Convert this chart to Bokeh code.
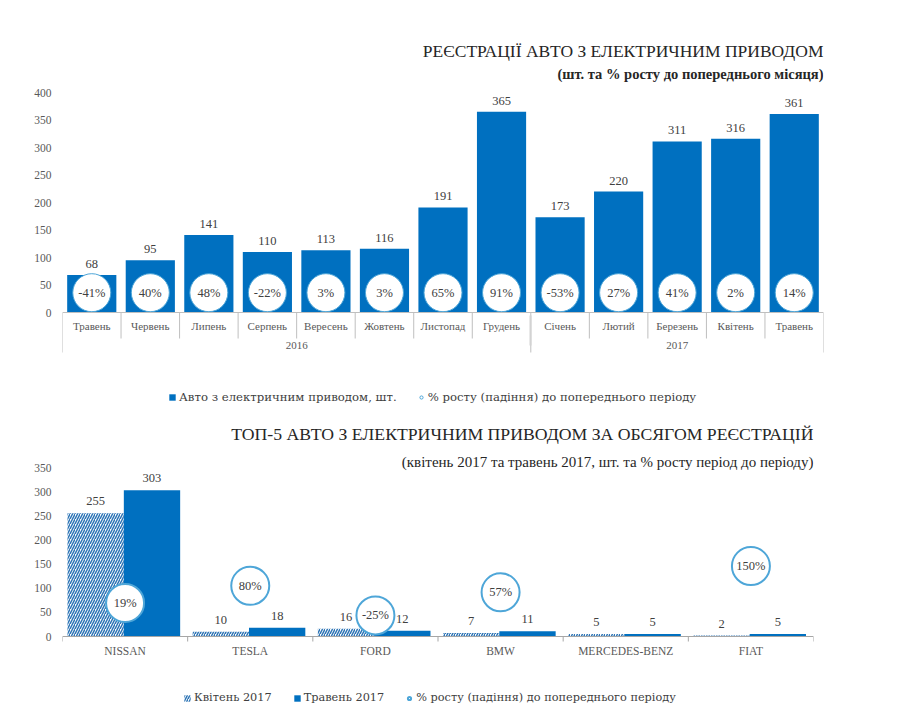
from bokeh.plotting import figure
from bokeh.models import (FactorRange, Range1d, ColumnDataSource, FixedTicker,
                          Label, Legend, LegendItem)
from bokeh.layouts import column
from bokeh.transform import dodge
from bokeh.core.properties import value
from bokeh.embed import file_html
from bokeh.resources import INLINE

# ---------------- data: top chart ----------------
months = ["Травень", "Червень", "Липень", "Серпень", "Вересень", "Жовтень",
          "Листопад", "Грудень", "Січень", "Лютий", "Березень", "Квітень", "Травень"]
years = ["2016"] * 8 + ["2017"] * 5
registrations = [68, 95, 141, 110, 113, 116, 191, 365, 173, 220, 311, 316, 361]
growth_pct = [-41, 40, 48, -22, 3, 3, 65, 91, -53, 27, 41, 2, 14]
top_yticks = [0, 50, 100, 150, 200, 250, 300, 350, 400]
top_title = "РЕЄСТРАЦІЇ АВТО З ЕЛЕКТРИЧНИМ ПРИВОДОМ"
top_subtitle = "(шт. та % росту до попереднього місяця)"
top_legend = ["Авто з електричним приводом, шт.", "% росту (падіння) до попереднього періоду"]

# ---------------- data: bottom chart ----------------
brands = ["NISSAN", "TESLA", "FORD", "BMW", "MERCEDES-BENZ", "FIAT"]
april_2017 = [255, 10, 16, 7, 5, 2]
may_2017 = [303, 18, 12, 11, 5, 5]
brand_growth_pct = [19, 80, -25, 57, None, 150]
bottom_yticks = [0, 50, 100, 150, 200, 250, 300, 350]
bottom_title = "ТОП-5 АВТО З ЕЛЕКТРИЧНИМ ПРИВОДОМ ЗА ОБСЯГОМ РЕЄСТРАЦІЙ"
bottom_subtitle = "(квітень 2017 та травень 2017, шт. та % росту період до періоду)"
bottom_legend = ["Квітень 2017", "Травень 2017", "% росту (падіння) до попереднього періоду"]

# ---------------- style ----------------
FONT = "Liberation Serif"
LEG_FONT = "DejaVu Serif"
BLUE = "#0070c0"
HATCH = "#2e75b6"
RING = "#4ea6d8"
TXT = "#404040"
AX = "#595959"
GRID = "#bfbfbf"
TITLE_C = "#262626"

# ================= TOP CHART =================
# layout (pixels): the frame covers the whole figure height; axis drawn at y = 0
W1, H1 = 884, 414
TOP_ZERO = 312            # pixel row of value 0
TOP_PPU = 220 / 400       # pixels per unit
CIRCLE_Y = 36


def ty(px):
    return (TOP_ZERO - px) / TOP_PPU


factors = list(zip(years, months))
src1 = ColumnDataSource(dict(
    x=factors, count=registrations,
    count_lbl=[str(v) for v in registrations],
    pct_lbl=[f"{v}%" for v in growth_pct],
))

p1 = figure(width=W1, height=H1,
            x_range=FactorRange(*factors, group_padding=0, factor_padding=0, range_padding=0),
            y_range=Range1d(ty(H1), ty(0)),
            output_backend="svg", toolbar_location=None,
            min_border_left=62, min_border_right=61, min_border_top=0, min_border_bottom=0)
p1.outline_line_color = None
p1.grid.visible = False

r_bar = p1.vbar(x="x", top="count", width=0.84, source=src1, fill_color=BLUE, line_color=None)
p1.text(x="x", y="count", text="count_lbl", source=src1, text_align="center",
        text_baseline="bottom", y_offset=-7, text_font=value(FONT), text_font_size="12.5px",
        text_color=TXT)
r_circ = p1.scatter(x="x", y=CIRCLE_Y, source=src1, size=38, fill_color="white",
                    line_color=RING, line_width=1)
p1.text(x="x", y=CIRCLE_Y, text="pct_lbl", source=src1, text_align="center",
        text_baseline="middle", text_font=value(FONT), text_font_size="12.5px", text_color=TXT)

p1.yaxis.ticker = FixedTicker(ticks=top_yticks)
p1.yaxis.axis_line_color = None
p1.yaxis.major_tick_line_color = None
p1.yaxis.minor_tick_line_color = None
p1.yaxis.major_tick_out = 0
p1.yaxis.major_label_standoff = 11
p1.yaxis.major_label_text_font = FONT
p1.yaxis.major_label_text_font_size = "11.5px"
p1.yaxis.major_label_text_color = AX

p1.xaxis.fixed_location = 0
p1.xaxis.axis_line_color = GRID
p1.xaxis.major_tick_line_color = None
p1.xaxis.major_tick_out = 0
p1.xaxis.major_label_standoff = 7
p1.xaxis.major_label_text_font = FONT
p1.xaxis.major_label_text_font_size = "11px"
p1.xaxis.major_label_text_color = AX
p1.xaxis.group_text_font = FONT
p1.xaxis.group_text_font_size = "11px"
p1.xaxis.group_text_color = AX
p1.xaxis.group_text_font_style = "normal"

# separators between category labels (synthetic categorical coordinates)
bounds = list(range(len(months) + 1))
edges = [0] + [i for i in range(1, len(years)) if years[i] != years[i - 1]] + [len(years)]
sep_src = ColumnDataSource(dict(
    x0=bounds, y0=[0] * len(bounds), x1=bounds,
    y1=[ty(TOP_ZERO + (40 if b in edges else 26)) for b in bounds]))
p1.segment(x0="x0", y0="y0", x1="x1", y1="y1", source=sep_src, line_color=GRID, line_width=1)

p1.add_layout(Label(x=len(months), y=ty(50), text=top_title, text_align="right",
                    text_baseline="middle", text_font=FONT, text_font_size="17.5px",
                    text_color=TITLE_C))
p1.add_layout(Label(x=len(months), y=ty(73), text=top_subtitle, text_align="right",
                    text_baseline="middle", text_font=FONT, text_font_size="14.5px",
                    text_font_style="bold", text_color=TITLE_C))

leg1 = Legend(items=[LegendItem(label=top_legend[0], renderers=[r_bar]),
                     LegendItem(label=top_legend[1], renderers=[r_circ])],
              orientation="horizontal", location=(106, 10), padding=0, margin=0,
              spacing=20, label_standoff=3, glyph_width=8, glyph_height=8, label_height=12,
              label_text_font=LEG_FONT, label_text_font_size="11.7px", label_text_color=TXT,
              border_line_color=None, background_fill_alpha=0)
p1.add_layout(leg1)

# ================= BOTTOM CHART =================
W2, H2 = 874, 300
BOT_ZERO = 222            # pixel row of value 0 inside this figure
BOT_PPU = 169 / 350
PCT_PER_UNIT = 600 / 350  # secondary axis: -100..500 % over 0..350
PCT_AT_ZERO = -100


def by(px):
    return (BOT_ZERO - px) / BOT_PPU


pct_y = [float("nan") if v is None else v for v in brand_growth_pct]
pct_lbl = ["" if v is None else f"{v}%" for v in brand_growth_pct]

src2 = ColumnDataSource(dict(
    brand=brands, apr=april_2017, may=may_2017,
    apr_lbl=[str(v) for v in april_2017], may_lbl=[str(v) for v in may_2017],
    pct=pct_y, pct_lbl=pct_lbl))

p2 = figure(width=W2, height=H2,
            x_range=FactorRange(*brands, range_padding=0, factor_padding=0),
            y_range=Range1d(by(H2), by(0)),
            output_backend="svg", toolbar_location=None,
            min_border_left=62, min_border_right=61, min_border_top=0, min_border_bottom=0)
p2.extra_y_ranges = {"pct": Range1d(PCT_AT_ZERO + by(H2) * PCT_PER_UNIT,
                                    PCT_AT_ZERO + by(0) * PCT_PER_UNIT)}
p2.outline_line_color = None
p2.grid.visible = False

r_apr = p2.vbar(x=dodge("brand", -0.235, range=p2.x_range), top="apr", width=0.45, source=src2,
                fill_color="white", line_color=None, hatch_pattern="/", hatch_color=HATCH,
                hatch_scale=5, hatch_weight=1.5)
r_may = p2.vbar(x=dodge("brand", 0.215, range=p2.x_range), top="may", width=0.45, source=src2,
                fill_color=BLUE, line_color=None)
p2.text(x=dodge("brand", -0.235, range=p2.x_range), y="apr", text="apr_lbl", source=src2,
        text_align="center", text_baseline="bottom", y_offset=-8, text_font=value(FONT),
        text_font_size="12.5px", text_color=TXT)
p2.text(x=dodge("brand", 0.215, range=p2.x_range), y="may", text="may_lbl", source=src2,
        text_align="center", text_baseline="bottom", y_offset=-8, text_font=value(FONT),
        text_font_size="12.5px", text_color=TXT)
r_ring = p2.scatter(x="brand", y="pct", source=src2, y_range_name="pct", size=38,
                    fill_color="white", line_color=RING, line_width=2)
p2.text(x="brand", y="pct", text="pct_lbl", source=src2, y_range_name="pct",
        text_align="center", text_baseline="middle", text_font=value(FONT),
        text_font_size="12.5px", text_color=TXT)

p2.yaxis.ticker = FixedTicker(ticks=bottom_yticks)
p2.yaxis.axis_line_color = None
p2.yaxis.major_tick_line_color = None
p2.yaxis.minor_tick_line_color = None
p2.yaxis.major_tick_out = 0
p2.yaxis.major_label_standoff = 11
p2.yaxis.major_label_text_font = FONT
p2.yaxis.major_label_text_font_size = "11.5px"
p2.yaxis.major_label_text_color = AX

p2.xaxis.fixed_location = 0
p2.xaxis.axis_line_color = "#a6a6a6"
p2.xaxis.major_tick_line_color = None
p2.xaxis.major_tick_out = 0
p2.xaxis.major_label_standoff = 8
p2.xaxis.major_label_text_font = FONT
p2.xaxis.major_label_text_font_size = "11.5px"
p2.xaxis.major_label_text_color = AX

bb = list(range(len(brands) + 1))
tick_src = ColumnDataSource(dict(x0=bb, y0=[0] * len(bb), x1=bb,
                                 y1=[by(BOT_ZERO + 5)] * len(bb)))
p2.segment(x0="x0", y0="y0", x1="x1", y1="y1", source=tick_src, line_color="#a6a6a6",
           line_width=1)

p2.add_layout(Label(x=len(brands), y=by(433 - H1), text=bottom_title, text_align="right",
                    text_baseline="middle", text_font=FONT, text_font_size="17.7px",
                    text_color=TITLE_C))
p2.add_layout(Label(x=len(brands), y=by(461 - H1), text=bottom_subtitle, text_align="right",
                    text_baseline="middle", text_font=FONT, text_font_size="15px",
                    text_color=TITLE_C))

leg2 = Legend(items=[LegendItem(label=bottom_legend[0], renderers=[r_apr]),
                     LegendItem(label=bottom_legend[1], renderers=[r_may]),
                     LegendItem(label=bottom_legend[2], renderers=[r_ring])],
              orientation="horizontal", location=(121, 10), padding=0, margin=0,
              spacing=21, label_standoff=3, glyph_width=8, glyph_height=8, label_height=12,
              label_text_font=LEG_FONT, label_text_font_size="11.3px", label_text_color=TXT,
              border_line_color=None, background_fill_alpha=0)
p2.add_layout(leg2)

layout = column(p1, p2, spacing=0)
open("out.html", "w").write(file_html(layout, INLINE))
